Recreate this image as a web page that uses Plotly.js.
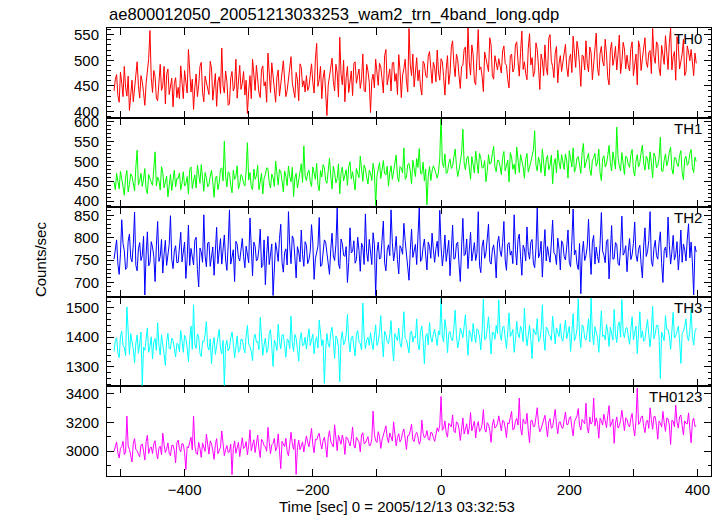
<!DOCTYPE html>
<html>
<head>
<meta charset="utf-8">
<script src="https://cdn.plot.ly/plotly-3.0.1.min.js"></script>
<style>html,body{margin:0;padding:0;background:#fff;}#chart{width:724px;height:516px;}</style>
</head>
<body>
<div id="chart"></div>
<script>
// Time grid (seconds from 2005/12/13 03:32:53), 2 s bins
const tStart = -510;
const tStep = 2;

const bandNames = ["TH0", "TH1", "TH2", "TH3", "TH0123"];

const th0 = [
440,463,472,431,418,477,455,429,488,447,430,469,402,438,461,419,445,482,497,451,426,470,458,437,412,455,476,503,558,466,437,480,468,426,421,459,492,441,450,488,415,472,483,433,446,465,409,454,466,427,
447,425,489,452,425,480,462,436,521,471,438,463,404,447,473,429,451,488,496,437,419,469,457,441,433,498,485,422,443,474,410,459,468,435,524,450,436,479,459,412,415,466,478,440,448,502,426,471,490,443,
455,478,432,461,396,440,470,425,502,473,441,490,466,436,427,482,489,450,458,418,514,471,437,495,472,446,418,467,481,430,453,484,499,462,429,441,463,489,507,456,444,427,476,462,421,493,486,448,460,438,
470,441,448,479,493,457,436,502,533,449,462,488,425,465,481,437,392,451,467,486,504,459,440,492,475,428,545,473,452,500,419,466,488,437,461,479,431,494,497,455,470,483,445,463,512,441,438,492,479,457,
398,461,473,446,502,478,451,494,487,463,436,509,521,452,468,483,440,495,496,459,474,433,511,480,427,471,483,502,459,438,562,491,470,512,448,479,505,460,481,447,432,498,493,470,466,508,517,484,455,496,
486,458,520,477,461,503,497,468,432,482,509,453,475,526,538,491,468,512,501,470,445,488,490,521,526,464,563,497,471,530,512,459,452,506,560,481,487,469,439,516,505,490,478,544,530,470,463,509,494,481,
503,487,475,518,528,494,490,462,446,509,512,477,484,530,536,498,469,515,557,482,497,474,462,523,552,491,505,468,478,534,521,487,443,512,499,470,530,486,471,543,550,498,488,466,514,527,456,493,509,478,
495,520,531,487,468,503,512,476,547,514,486,537,520,491,449,510,508,481,538,493,477,526,515,462,498,532,553,484,470,513,527,498,489,541,512,466,452,519,535,490,504,527,481,511,549,474,496,535,522,483,
510,489,479,523,536,470,497,512,452,538,525,480,503,526,544,497,486,515,519,474,562,508,494,536,531,485,470,529,513,492,548,503,482,534,563,481,507,517,461,546,529,483,495,512,541,470,478,528,516,499,
521,488,470,514,494];

const th1 = [
448,429,470,452,431,475,459,437,415,460,477,423,442,469,463,448,426,486,528,441,451,470,437,456,482,430,419,467,455,448,440,479,524,438,461,452,428,487,472,434,446,463,411,449,467,427,453,478,436,458,
457,471,429,446,474,438,444,462,418,479,486,432,451,466,433,490,468,445,492,457,425,472,459,436,441,463,478,447,410,458,463,429,447,480,484,451,551,462,436,474,470,440,421,478,455,462,489,431,443,467,
461,445,438,476,547,453,472,436,429,481,455,463,490,429,446,470,418,458,467,484,482,447,433,468,459,437,501,460,441,480,474,451,423,476,463,439,488,462,449,485,412,458,470,433,456,475,494,447,539,463,
452,471,478,449,437,486,469,455,495,441,426,477,461,492,484,452,445,479,508,463,431,488,472,446,457,494,419,470,486,451,463,479,440,487,499,456,474,443,428,482,466,459,513,476,450,491,481,460,443,478,
470,452,495,476,389,463,481,497,457,480,502,469,466,488,438,471,489,455,474,500,516,462,449,487,483,471,534,455,460,492,495,476,443,503,478,462,507,485,532,470,468,498,451,481,391,463,487,452,476,489,
481,466,458,473,509,615,497,485,519,470,472,495,506,482,488,511,531,490,462,478,500,521,581,496,479,507,513,484,455,512,494,471,526,498,470,520,508,483,485,502,449,475,517,493,496,519,538,486,474,503,
502,488,467,510,525,476,489,503,448,522,511,480,493,468,536,499,472,517,504,486,458,505,520,473,485,497,509,528,577,490,476,511,497,472,531,486,463,504,515,479,490,516,444,493,507,471,528,499,481,517,
496,480,519,502,458,527,507,486,534,473,483,509,512,495,470,522,545,484,498,511,521,479,465,503,509,520,488,497,531,472,452,508,514,486,493,515,540,497,476,524,503,481,586,510,489,476,522,495,467,513,
509,492,485,517,530,478,463,501,517,486,497,522,541,495,478,513,506,480,524,497,459,521,512,484,490,508,561,476,475,503,519,489,501,523,536,481,468,510,509,494,487,515,527,472,454,506,513,490,495,520,
530,484,472,511,500];

const th2 = [
752,778,795,741,718,764,840,787,771,729,733,792,808,755,746,784,857,738,726,775,789,749,760,803,672,762,813,737,744,791,779,758,702,782,836,747,758,796,721,763,794,738,767,785,849,752,731,770,782,744,
745,771,812,746,763,790,709,752,828,738,776,761,739,794,801,729,690,777,768,745,851,759,735,788,790,736,754,779,716,764,823,742,772,798,741,767,806,750,727,784,862,741,760,773,702,792,785,756,748,780,
798,758,733,781,766,744,844,769,715,790,781,748,752,776,819,733,738,795,695,762,803,740,761,786,671,754,789,771,747,798,830,745,723,767,775,739,858,781,742,804,796,757,710,780,768,746,817,762,736,791,
783,742,751,770,829,788,707,753,772,781,845,736,738,764,795,790,762,748,718,775,810,759,749,784,866,742,731,797,787,761,758,780,700,745,822,766,769,793,743,751,801,772,725,788,779,740,853,767,747,796,
764,740,811,785,671,767,790,752,755,798,837,744,726,772,784,760,862,789,748,769,803,751,719,782,776,763,832,794,758,739,705,771,819,756,771,785,740,800,866,747,752,779,797,761,728,790,781,754,810,773,
745,776,792,758,861,781,737,763,806,747,769,794,715,770,828,752,754,786,790,741,702,779,843,760,763,797,731,772,812,748,776,789,749,765,858,738,722,781,795,754,766,800,830,747,741,772,784,759,710,788,
803,771,758,789,836,750,727,785,789,761,770,742,851,774,739,796,808,757,716,783,775,748,824,769,752,790,796,743,733,777,866,755,764,792,712,773,818,748,780,761,745,788,839,766,762,740,799,775,728,793,
786,758,750,779,817,745,735,793,864,762,772,741,729,787,675,764,792,749,760,781,841,767,718,790,805,741,779,758,744,785,856,770,761,744,792,796,708,765,827,752,753,789,785,743,738,777,848,761,767,782,
724,769,798,751,762,787,835,762,747,774,783,741,710,781,822,758,769,794,858,747,736,776,794,760,752,789,813,742,700,772,779,756,846,783,741,768,805,750,763,791,728,764,817,745,786,773,748,797,831,755,
790,744,672,781,768];

const th3 = [
1352,1389,1398,1347,1331,1403,1420,1371,1365,1338,1501,1395,1342,1412,1389,1358,1314,1380,1407,1346,1378,1417,1238,1366,1356,1392,1431,1349,1369,1401,1327,1384,1395,1355,1448,1372,1340,1408,1382,1343,1305,1386,1413,1361,1361,1397,1390,1352,1334,1379,
1376,1351,1422,1388,1349,1406,1395,1364,1318,1392,1437,1359,1508,1377,1362,1411,1401,1345,1335,1386,1384,1409,1452,1368,1357,1394,1310,1375,1398,1342,1371,1405,1426,1361,1344,1389,1238,1372,1389,1354,1363,1398,1417,1380,1330,1367,1404,1349,1355,1393,
1392,1366,1347,1404,1439,1377,1368,1352,1321,1396,1410,1383,1385,1358,1466,1401,1339,1374,1397,1348,1358,1412,1425,1367,1302,1390,1378,1355,1443,1385,1361,1407,1408,1370,1333,1394,1389,1361,1470,1381,1352,1409,1396,1359,1319,1392,1415,1371,1374,1400,
1360,1397,1428,1372,1389,1410,1344,1385,1401,1363,1457,1402,1371,1391,1245,1358,1412,1377,1366,1415,1433,1389,1329,1404,1395,1366,1250,1393,1418,1374,1383,1408,1476,1386,1350,1399,1404,1368,1337,1411,1422,1384,1378,1357,1514,1403,1361,1390,1399,1372,
1415,1381,1358,1404,1441,1372,1386,1415,1472,1393,1334,1420,1409,1386,1378,1407,1455,1369,1320,1412,1398,1388,1430,1379,1366,1410,1485,1395,1391,1368,1347,1414,1420,1383,1402,1397,1461,1376,1357,1418,1437,1389,1311,1405,1412,1374,1449,1399,1383,1411,
1426,1398,1372,1421,1407,1530,1403,1383,1459,1426,1348,1412,1419,1394,1387,1431,1490,1405,1364,1388,1431,1417,1398,1437,1475,1396,1339,1422,1412,1385,1446,1409,1381,1428,1422,1401,1357,1419,1527,1391,1395,1430,1468,1404,1343,1416,1415,1393,1439,1412,
1525,1411,1389,1433,1437,1396,1362,1418,1481,1402,1410,1426,1349,1391,1453,1410,1398,1437,1422,1385,1497,1419,1371,1404,1440,1392,1328,1428,1415,1407,1462,1384,1393,1423,1508,1398,1356,1434,1428,1409,1404,1389,1470,1417,1377,1431,1419,1402,1445,1395,
1386,1420,1457,1395,1413,1436,1352,1409,1479,1388,1401,1427,1528,1403,1365,1441,1436,1396,1390,1418,1462,1384,1531,1412,1374,1435,1421,1399,1349,1426,1488,1402,1407,1391,1443,1417,1369,1433,1416,1390,1493,1411,1382,1438,1451,1400,1526,1415,1398,1429,
1432,1403,1376,1425,1468,1391,1409,1437,1345,1414,1485,1398,1421,1386,1392,1430,1459,1408,1367,1421,1503,1394,1411,1439,1440,1402,1262,1417,1398,1388,1472,1426,1426,1405,1359,1433,1483,1397,1405,1419,1437,1390,1312,1412,1420,1436,1461,1400,1388,1422,
1492,1401,1373,1419,1430];

const th0123 = [
2998,3041,3064,2987,2952,3020,3031,3068,2976,2995,3244,3036,3012,2969,2925,3054,3087,3010,3003,2978,2961,3042,3049,3001,2938,3066,3110,2984,3018,3029,2983,3051,3072,2993,2946,3022,3035,2974,3125,3047,2990,3013,3058,2986,2967,3039,3041,3005,2919,3058,
3076,3017,2994,3053,3048,2989,2872,3031,3022,3064,3097,3008,3243,3042,2985,2976,3061,3019,2957,3057,3034,2998,3118,3036,2979,3071,3052,3003,2943,3045,3087,2982,3010,3027,3140,3059,2968,3011,3039,2990,2996,3048,2836,3020,3071,2985,3015,3062,2962,3033,
3093,3018,3027,3066,2974,3041,3148,3003,3045,3079,2990,3052,3112,3014,2956,3083,3068,3037,3031,2999,3165,3061,2983,3044,3054,3088,3002,3025,3120,3006,2878,3068,3047,3031,3089,2997,2968,3072,3131,3049,3012,3084,2838,3023,3075,3010,3038,3064,2994,3046,
3106,3062,3030,3091,3158,3044,2989,3082,3077,3105,3124,3058,3015,3073,3096,3037,2958,3094,3142,3066,3051,3029,3183,3087,3003,3110,3069,3048,3112,3071,2977,3099,3090,3055,3036,3083,3167,3042,3021,3097,3084,3064,2995,3112,3128,3051,3057,3079,3101,3038,
3041,3088,3278,3117,3072,3060,3135,3101,3019,3079,3110,3138,3176,3094,3058,3126,3093,3071,3203,3113,3037,3095,3121,3064,3082,3129,3154,3086,3011,3107,3109,3142,3187,3080,3066,3115,3130,3099,3048,3072,3215,3123,3092,3104,3143,3086,3075,3131,3126,3095,
3068,3112,3162,3136,3181,3380,3145,3157,3210,3129,3097,3194,3183,3168,3252,3140,3128,3203,3196,3155,3074,3177,3231,3119,3159,3190,3117,3162,3268,3141,3174,3208,3092,3173,3205,3137,3150,3186,3289,3154,3132,3198,3186,3145,3061,3179,3221,3160,3170,3193,
3245,3176,3141,3214,3208,3162,3093,3197,3190,3235,3276,3148,3155,3207,3228,3181,3369,3159,3112,3222,3197,3188,3263,3144,3058,3211,3214,3170,3172,3236,3302,3185,3135,3153,3189,3219,3249,3177,3098,3204,3226,3158,3167,3229,3290,3186,3121,3201,3203,3165,
3158,3217,3272,3186,3185,3231,3240,3164,3106,3203,3219,3245,3296,3178,3147,3221,3205,3190,3333,3162,3126,3236,3188,3207,3368,3175,3231,3194,3090,3228,3210,3181,3257,3212,3163,3249,3316,3170,3195,3223,3054,3196,3238,3160,3176,3214,3284,3188,3142,3232,
3220,3183,3168,3227,3262,3164,3105,3211,3438,3185,3197,3236,3245,3172,3129,3204,3216,3158,3301,3219,3152,3241,3239,3176,3083,3209,3194,3167,3276,3198,3137,3230,3225,3182,3047,3215,3208,3169,3319,3201,3160,3237,3251,3178,3113,3210,3193,3189,3266,3155,
3058,3204,3230,3171,3176];

const xTickVals = [-500,-400,-300,-200,-100,0,100,200,300,400];
const xTickText = ["","\u2212400","","\u2212200","","0","","200","","400"];

// per panel (top to bottom)
const series = [th0, th1, th2, th3, th0123];
const colors = ["#ff0000", "#00ff00", "#0000ff", "#00ffff", "#ff00ff"];
const yRanges = [[388,563],[385,610],[668,868],[1235,1535],[2827,3450]];
const yDticks = [50, 50, 50, 100, 200];
const yMinor = [10, 10, 10, 20, 100];

const FONT = "Liberation Sans, Arial, Helvetica, sans-serif";
const traces = [];
const layout = {
  width: 724, height: 516,
  margin: {l: 107, r: 13, t: 28, b: 40},
  paper_bgcolor: "#fff", plot_bgcolor: "#fff",
  showlegend: false,
  font: {family: FONT, size: 15, color: "#000"},
  annotations: []
};

const n = series.length;
for (let p = 0; p < n; p++) {
  const idx = n - p; // bottom panel = 1
  const xa = idx === 1 ? "x" : "x" + idx;
  const ya = idx === 1 ? "y" : "y" + idx;
  const vals = series[p];
  const times = vals.map((_, i) => tStart + i * tStep);
  traces.push({
    type: "scatter", mode: "lines", x: times, y: vals,
    xaxis: xa, yaxis: ya,
    line: {color: colors[p], width: 1},
    hoverinfo: "skip"
  });
  const d0 = (idx - 1) / n, d1 = idx / n;
  const xKey = idx === 1 ? "xaxis" : "xaxis" + idx;
  const yKey = idx === 1 ? "yaxis" : "yaxis" + idx;
  layout[xKey] = {
    domain: [0, 1], anchor: ya, range: [-521, 421],
    tickmode: "array", tickvals: xTickVals, ticktext: xTickText,
    ticks: "inside", ticklen: 7, tickwidth: 1, tickcolor: "#000",
    showline: true, linecolor: "#000", linewidth: 1, mirror: "allticks",
    showgrid: false, zeroline: false,
    showticklabels: idx === 1,
    tickfont: {family: FONT, size: 15, color: "#000"}
  };
  if (idx !== 1) layout[xKey].matches = "x";
  layout[yKey] = {
    domain: [d0, d1], anchor: xa, range: yRanges[p],
    dtick: yDticks[p], tick0: 0,
    ticks: "inside", ticklen: 7, tickwidth: 1, tickcolor: "#000",
    minor: {dtick: yMinor[p], tick0: 0, ticks: "inside", ticklen: 3.5, tickwidth: 1, tickcolor: "#000", showgrid: false},
    showline: true, linecolor: "#000", linewidth: 1, mirror: "allticks",
    showgrid: false, zeroline: false,
    ticklabelstandoff: 4,
    tickfont: {family: FONT, size: 15, color: "#000"}
  };
  layout.annotations.push({
    xref: "paper", yref: "paper", x: 0.988, y: d1, xanchor: "right", yanchor: "top",
    text: bandNames[p], showarrow: false,
    font: {family: FONT, size: 15, color: "#000"}
  });
}

layout.annotations.push({
  xref: "paper", yref: "paper", x: 0, y: 1.031, xanchor: "left", yanchor: "middle",
  text: "ae800012050_20051213033253_wam2_trn_4band_long.qdp", showarrow: false,
  font: {family: FONT, size: 16.6, color: "#000"}
});
layout.annotations.push({
  xref: "paper", yref: "paper", x: 0.282, y: -0.069, xanchor: "left", yanchor: "middle",
  text: "Time [sec] 0 = 2005/12/13 03:32:53", showarrow: false,
  font: {family: FONT, size: 15, color: "#000"}
});
layout.annotations.push({
  xref: "paper", yref: "paper", x: -0.111, y: 0.484, xanchor: "center", yanchor: "middle",
  text: "Counts/sec", textangle: -90, showarrow: false,
  font: {family: FONT, size: 15, color: "#000"}
});

Plotly.newPlot("chart", traces, layout, {staticPlot: true, displayModeBar: false});
</script>
</body>
</html>
